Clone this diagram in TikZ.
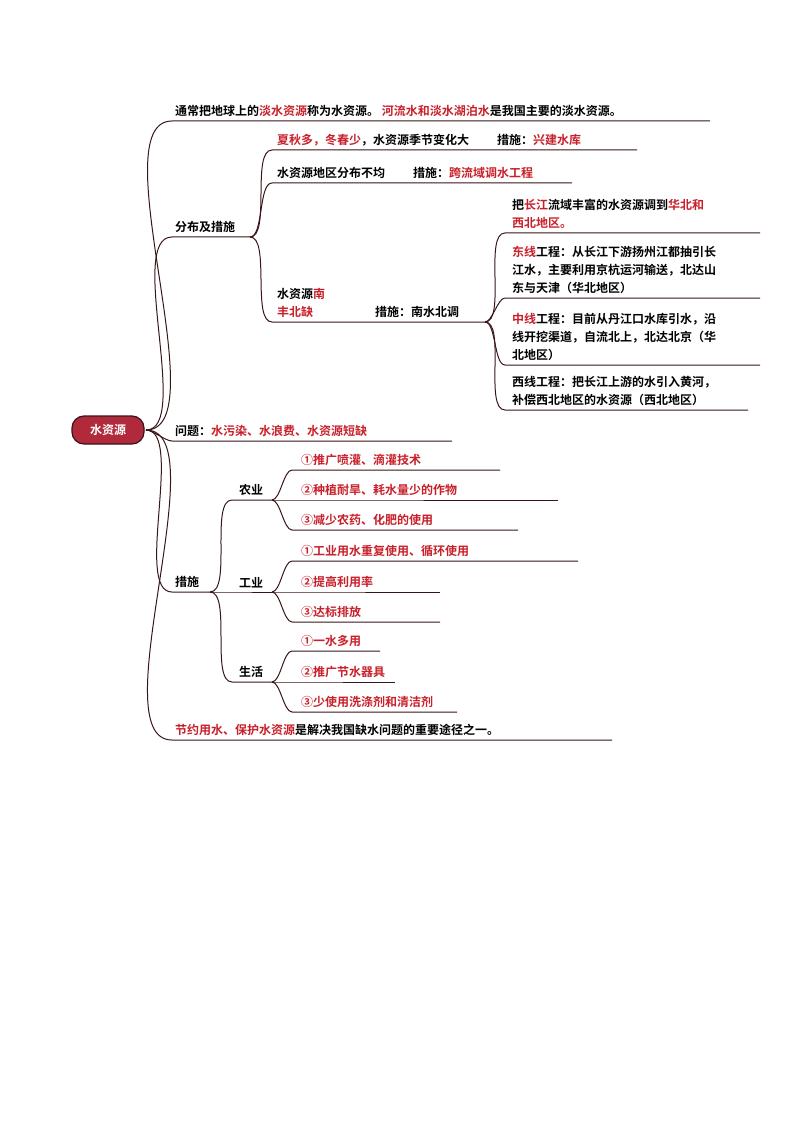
\documentclass[tikz,border=0pt]{standalone}
\usepackage{fontspec}
\setmainfont{Noto Sans CJK SC}[BoldFont={Noto Sans CJK SC Bold}]
\usetikzlibrary{positioning}
\definecolor{linebrown}{HTML}{3A1518}
\definecolor{hlred}{HTML}{C8202A}
\definecolor{rootred}{HTML}{B02A3C}
\newcommand{\hl}[1]{\textcolor{hlred}{#1}}
\tikzstyle{root} = [rectangle, rounded corners=12pt, minimum width=72pt, minimum height=28pt, draw=linebrown, line width=1.2pt, fill=rootred, text=white, font=\bfseries\fontsize{12}{14}\selectfont]
\tikzstyle{txt} = [anchor=south west, inner sep=1pt, align=left, font=\bfseries\fontsize{12}{18}\selectfont]
\tikzstyle{link} = [draw=linebrown, line width=1pt]
% curve from a parent point to a new underline: parent, name, x-start, y, x-end
\newcommand{\branch}[5]{%
  \coordinate (#2) at (#3,#4);
  \coordinate (#2-end) at (#5,#4);
  \draw [link] (#1) to[out=0, in=180, looseness=0.6] (#2) -- (#2-end);}
\begin{document}
\begin{tikzpicture}[x=1pt, y=-1pt]
		\useasboundingbox (0,0) rectangle (794,1123);
		\node (water) [root] at (108,430) {水资源};
		\coordinate (hub) at (146,430);
		
		% first level
		\branch{hub}{intro}{172}{121}{710}
		\branch{hub}{dist}{172}{237}{250}
		\branch{hub}{problem}{172}{441}{452}
		\branch{hub}{measure}{172}{592}{210}
		\branch{hub}{saving}{172}{740}{612}
		\node (introtxt) [txt] at (174,118) {通常把地球上的\hl{淡水资源}称为水资源。 \hl{河流水和淡水湖泊水}是我国主要的淡水资源。};
		\node (disttxt) [txt] at (174,234) {分布及措施};
		\node (problemtxt) [txt] at (174,438) {问题：\hl{水污染、水浪费、水资源短缺}};
		\node (measuretxt) [txt] at (174,589) {措施};
		\node (savingtxt) [txt] at (174,737) {\hl{节约用水、保护水资源}是解决我国缺水问题的重要途径之一。};
		
		% distribution
		\branch{dist-end}{season}{272}{150}{637}
		\branch{dist-end}{region}{272}{183}{572}
		\branch{dist-end}{southnorth}{272}{322}{485}
		\node (seasontxt) [txt] at (276,147) {\hl{夏秋多，冬春少}，水资源季节变化大\hspace{28pt}措施：\hl{兴建水库}};
		\node (regiontxt) [txt] at (276,180) {水资源地区分布不均\hspace{28pt}措施：\hl{跨流域调水工程}};
		\node (southnorthtxt) [txt] at (276,319) {水资源\hl{南}\\\hl{丰北缺}};
		\node (transfertxt) [txt] at (374,319) {措施：南水北调};
		
		% south-to-north water transfer
		\branch{southnorth-end}{goal}{505}{233}{760}
		\branch{southnorth-end}{east}{505}{298}{760}
		\branch{southnorth-end}{middle}{505}{365}{760}
		\branch{southnorth-end}{west}{505}{410}{748}
		\node (goaltxt) [txt] at (511,230) {把\hl{长江}流域丰富的水资源调到\hl{华北和}\\\hl{西北地区。}};
		\node (easttxt) [txt] at (511,295) {\hl{东线}工程：从长江下游扬州江都抽引长\\江水，主要利用京杭运河输送，北达山\\东与天津（华北地区）};
		\node (middletxt) [txt] at (511,362) {\hl{中线}工程：目前从丹江口水库引水，沿\\线开挖渠道，自流北上，北达北京（华\\北地区）};
		\node (westtxt) [txt] at (511,407) {西线工程：把长江上游的水引入黄河，\\补偿西北地区的水资源（西北地区）};
		
		% measures
		\branch{measure-end}{farm}{232}{500}{272}
		\branch{measure-end}{industry}{232}{592}{272}
		\branch{measure-end}{life}{232}{682}{272}
		\node (farmtxt) [txt] at (238,497) {农业};
		\node (industrytxt) [txt] at (238,589) {工业};
		\node (lifetxt) [txt] at (238,679) {生活};
		
		\branch{farm-end}{farmA}{292}{470}{500}
		\branch{farm-end}{farmB}{292}{500}{558}
		\branch{farm-end}{farmC}{292}{530}{518}
		\branch{industry-end}{industryA}{292}{561}{578}
		\branch{industry-end}{industryB}{292}{592}{440}
		\branch{industry-end}{industryC}{292}{622}{440}
		\branch{life-end}{lifeA}{292}{651}{380}
		\branch{life-end}{lifeB}{292}{682}{395}
		\branch{life-end}{lifeC}{292}{712}{457}
		\node (farmAtxt) [txt] at (300,467) {\hl{①推广喷灌、滴灌技术}};
		\node (farmBtxt) [txt] at (300,497) {\hl{②种植耐旱、耗水量少的作物}};
		\node (farmCtxt) [txt] at (300,527) {\hl{③减少农药、化肥的使用}};
		\node (industryAtxt) [txt] at (300,558) {\hl{①工业用水重复使用、循环使用}};
		\node (industryBtxt) [txt] at (300,589) {\hl{②提高利用率}};
		\node (industryCtxt) [txt] at (300,619) {\hl{③达标排放}};
		\node (lifeAtxt) [txt] at (300,648) {\hl{①一水多用}};
		\node (lifeBtxt) [txt] at (300,679) {\hl{②推广节水器具}};
		\node (lifeCtxt) [txt] at (300,709) {\hl{③少使用洗涤剂和清洁剂}};
\end{tikzpicture}
\end{document}
